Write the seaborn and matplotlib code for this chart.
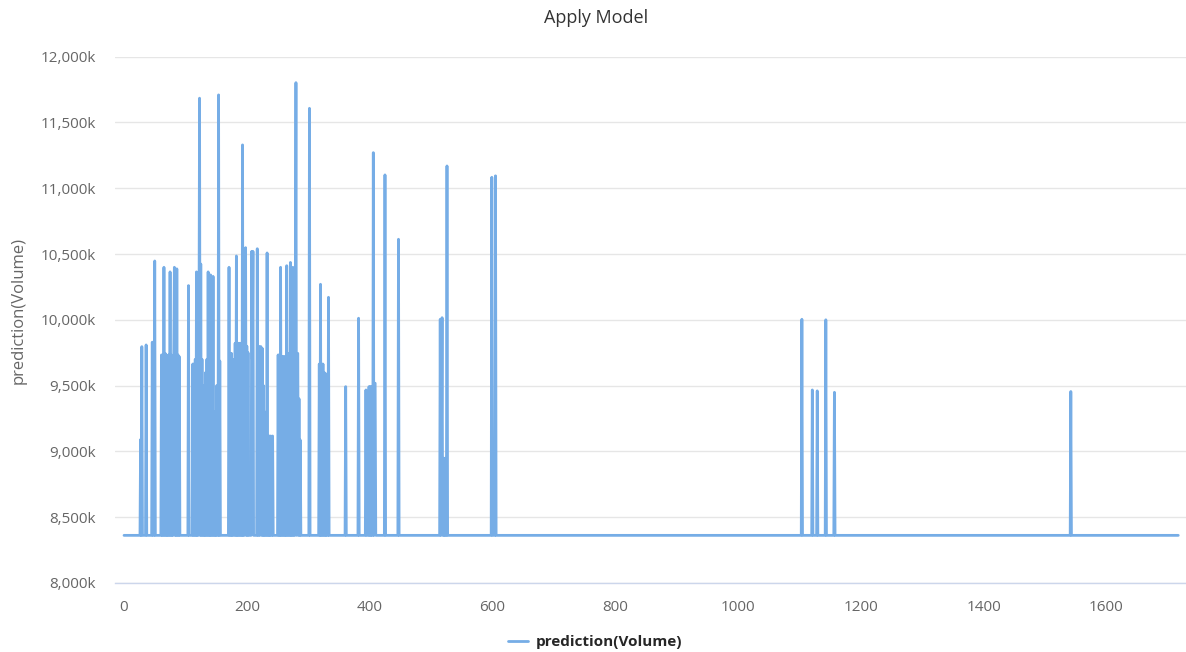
import numpy as np
import pandas as pd
import matplotlib
matplotlib.use("Agg")
import matplotlib.pyplot as plt
import matplotlib.ticker as mticker
from matplotlib.lines import Line2D
import seaborn as sns

# ---------------- data ----------------
n_rows = 1718                 # row indices 0 .. 1717
baseline_k = 8362             # value of every non-spike row (thousands)

spike_x = [27, 29, 36, 46, 50,
           61, 63, 65, 67, 69, 71, 73, 75, 77, 79, 81, 82, 84, 86, 88, 90,
           105,
           112, 114, 116, 118, 120, 122, 123, 125, 127, 129, 131, 133, 135, 137,
           139, 141, 143, 145, 147, 149, 151, 154, 156,
           171, 173, 175, 177,
           181, 183, 185, 187, 189, 191, 193, 195, 197, 198, 200, 202,
           208, 209, 210, 217,
           220, 222, 223, 225, 227, 229, 231, 233, 235, 237, 239, 242,
           251, 253, 255, 257, 259, 261, 263, 265, 267, 269, 271, 273, 275, 277,
           279, 280, 282, 283, 285, 287,
           302,
           318, 320, 322, 324, 326, 328, 330, 333,
           361, 382, 394,
           399, 401, 403, 406, 408, 409,
           425, 447,
           515, 517, 518, 520, 522, 524, 526,
           599, 605,
           1104, 1121, 1129, 1143, 1157, 1542]

spike_y = [9090, 9796, 9809, 9830, 10447,
           9733, 9733, 10399, 9745, 9733, 9720, 9733, 10364, 9733, 9100, 9733, 10399, 9733, 10387, 9733, 9720,
           10260,
           9664, 9664, 9700, 10364, 9720, 9680, 11684, 10424, 9700, 9049, 9500, 9600, 9700, 10364,
           9650, 10341, 9600, 10330, 9300, 9049, 9500, 11709, 9687,
           10399, 9745, 9745, 9700,
           9822, 10485, 9822, 9822, 9822, 9822, 11329, 9822, 9822, 10548, 9800, 9750,
           10520, 9700, 10520, 10540,
           9796, 9796, 9796, 9784, 9500, 9300, 9117, 10508, 9117, 9117, 9117, 9117,
           9733, 9733, 10399, 9720, 9720, 9720, 9720, 10411, 9745, 9745, 10436, 9745, 10399, 9745,
           9745, 11802, 9745, 9745, 9400, 9087,
           11607,
           9664, 10270, 9664, 9664, 9600, 9588, 9588, 10171,
           9492, 10012, 9467,
           9492, 9492, 9492, 11270, 9518, 9518,
           11101, 10612,
           10004, 9000, 10016, 8948, 8948, 8948, 11169,
           11083, 11094,
           10004, 9467, 9460, 10000, 9449, 9455]

y_ticks = [8000, 8500, 9000, 9500, 10000, 10500, 11000, 11500, 12000]
x_ticks = [0, 200, 400, 600, 800, 1000, 1200, 1400, 1600]

title = "Apply Model"
series_name = "prediction(Volume)"

# ---------------- build table ----------------
values = np.full(n_rows, float(baseline_k))
values[np.array(spike_x)] = np.array(spike_y, dtype=float)
df = pd.DataFrame({"row": np.arange(n_rows), series_name: values})

# ---------------- draw ----------------
sns.set_theme(style="white")
plt.rcParams["font.family"] = ["Open Sans", "DejaVu Sans"]

W, H = 1186, 652
fig = plt.figure(figsize=(W / 100, H / 100), dpi=100)
ax = fig.add_axes([115 / W, 1 - 583 / H, (1186 - 115) / W, (583 - 56.6) / H])

line_color = "#76ade6"
sns.lineplot(data=df, x="row", y=series_name, ax=ax, color=line_color,
             linewidth=2, estimator=None, legend=False)

ax.set_xlim(-14.7, 1729.6)
ax.set_ylim(8000, 12000)
ax.set_yticks(y_ticks)
ax.set_xticks(x_ticks)
ax.yaxis.set_major_formatter(mticker.FuncFormatter(lambda v, p: f"{int(v):,}k"))

ax.grid(axis="y", color="#e6e6e6", linewidth=1)
ax.set_axisbelow(True)
for s in ["top", "right", "left"]:
    ax.spines[s].set_visible(False)
ax.spines["bottom"].set_color("#ccd6eb")
ax.spines["bottom"].set_linewidth(1)
ax.tick_params(axis="x", direction="out", length=9, width=1, color="#ccd6eb",
               labelcolor="#666666", labelsize=11, pad=3)
ax.tick_params(axis="y", length=0, labelcolor="#666666", labelsize=11, pad=14)

ax.set_xlabel("")
ax.set_ylabel(series_name, color="#666666", fontsize=12, va="center")
ax.yaxis.set_label_coords((19 - 115) / 1071, (583 - 311) / 526.4)

fig.text(596 / W, 1 - 18 / H, title, ha="center", va="center",
         fontsize=13, color="#333333")

handle = Line2D([], [], color=line_color, linewidth=2)
fig.legend([handle], [series_name], loc="center", bbox_to_anchor=(595 / W, 1 - 642 / H),
           frameon=False, handlelength=1.3, handletextpad=0.5,
           prop={"weight": "bold", "size": 11})

fig.savefig("out.png", dpi=100)
